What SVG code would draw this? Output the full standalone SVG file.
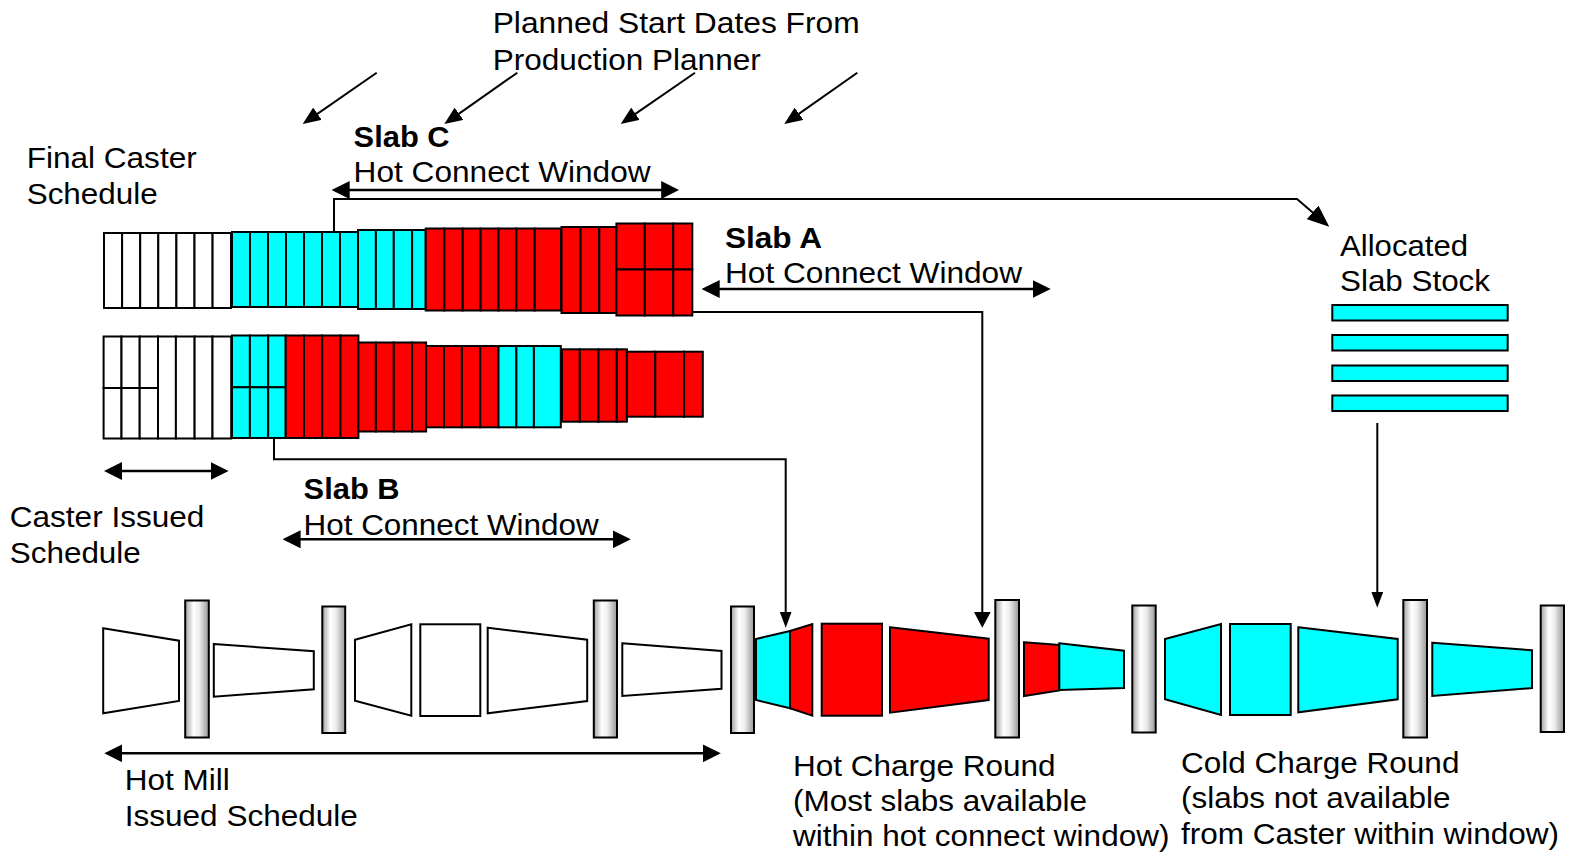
<svg xmlns="http://www.w3.org/2000/svg" width="1575" height="855" viewBox="0 0 1575 855">
<defs>
<linearGradient id="rollg" x1="0" y1="0" x2="1" y2="0">
<stop offset="0" stop-color="#a0a0a0"/><stop offset="0.35" stop-color="#ffffff"/><stop offset="0.6" stop-color="#ececec"/><stop offset="1" stop-color="#969696"/>
</linearGradient>
<marker id="ahBig" markerUnits="userSpaceOnUse" markerWidth="18" markerHeight="18" refX="12" refY="9" orient="auto-start-reverse"><path d="M0,0 L18,9 L0,18 z" fill="#000"/></marker>
<marker id="ahDiag" markerUnits="userSpaceOnUse" markerWidth="18" markerHeight="15" refX="12" refY="7.5" orient="auto"><path d="M0,0 L18,7.5 L0,15 z" fill="#000"/></marker>
<marker id="ahC" markerUnits="userSpaceOnUse" markerWidth="22" markerHeight="18" refX="14" refY="9" orient="auto"><path d="M0,0 L22,9 L0,18 z" fill="#000"/></marker>
<marker id="ahMed" markerUnits="userSpaceOnUse" markerWidth="16" markerHeight="17" refX="10" refY="8.5" orient="auto"><path d="M0,0 L16,8.5 L0,17 z" fill="#000"/></marker>
<marker id="ahSm" markerUnits="userSpaceOnUse" markerWidth="16" markerHeight="12" refX="10" refY="6" orient="auto"><path d="M0,0 L16,6 L0,12 z" fill="#000"/></marker>
</defs>
<style>
text{font-family:"Liberation Sans",Arial,Helvetica,sans-serif;font-size:29px;fill:#000}
.b{font-weight:bold}
.w{fill:#fff;stroke:#000;stroke-width:2}
.c{fill:#00ffff;stroke:#000;stroke-width:2}
.r{fill:#ff0000;stroke:#000;stroke-width:2}
.roll{fill:url(#rollg);stroke:#000;stroke-width:2}
.ln{fill:none;stroke:#000;stroke-width:2}
.dbl{fill:none;stroke:#000;stroke-width:2.5;marker-start:url(#ahBig);marker-end:url(#ahBig)}
</style>
<rect width="1575" height="855" fill="#fff"/>

<g id="final-caster-schedule">
<rect class="w" x="104" y="233" width="18.1" height="75"/><rect class="w" x="122.1" y="233" width="18.1" height="75"/><rect class="w" x="140.2" y="233" width="18.1" height="75"/><rect class="w" x="158.3" y="233" width="18.1" height="75"/><rect class="w" x="176.4" y="233" width="18.1" height="75"/><rect class="w" x="194.5" y="233" width="18.1" height="75"/><rect class="w" x="212.6" y="233" width="18.4" height="75"/>
<rect class="c" x="232" y="232" width="18" height="75"/><rect class="c" x="250" y="232" width="18" height="75"/><rect class="c" x="268" y="232" width="18" height="75"/><rect class="c" x="286" y="232" width="18" height="75"/><rect class="c" x="304" y="232" width="18" height="75"/><rect class="c" x="322" y="232" width="18" height="75"/><rect class="c" x="340" y="232" width="18" height="75"/>
<rect class="c" x="358" y="230" width="17.9" height="79"/><rect class="c" x="375.9" y="230" width="17.9" height="79"/><rect class="c" x="393.8" y="230" width="18.3" height="79"/><rect class="c" x="412.1" y="230" width="13.6" height="79"/>
<rect class="r" x="425.7" y="228.5" width="18.7" height="82"/><rect class="r" x="444.4" y="228.5" width="18.3" height="82"/><rect class="r" x="462.7" y="228.5" width="17.9" height="82"/><rect class="r" x="480.6" y="228.5" width="17.9" height="82"/><rect class="r" x="498.5" y="228.5" width="17.9" height="82"/><rect class="r" x="516.4" y="228.5" width="18.3" height="82"/><rect class="r" x="534.7" y="228.5" width="26.3" height="82"/>
<rect class="r" x="561.5" y="227" width="19.1" height="86"/><rect class="r" x="580.6" y="227" width="18.7" height="86"/><rect class="r" x="599.3" y="227" width="17.1" height="86"/>
<rect class="r" x="616.4" y="223.5" width="28.4" height="46"/><rect class="r" x="644.8" y="223.5" width="28.4" height="46"/><rect class="r" x="673.2" y="223.5" width="19.1" height="46"/>
<rect class="r" x="616.4" y="269.5" width="28.4" height="46"/><rect class="r" x="644.8" y="269.5" width="28.4" height="46"/><rect class="r" x="673.2" y="269.5" width="19.1" height="46"/>
</g>

<g id="caster-issued-schedule-row">
<rect class="w" x="103.6" y="336.5" width="17.9" height="51.5"/><rect class="w" x="121.5" y="336.5" width="18.2" height="51.5"/><rect class="w" x="139.7" y="336.5" width="18.3" height="51.5"/>
<rect class="w" x="103.6" y="388" width="17.9" height="50.5"/><rect class="w" x="121.5" y="388" width="18.2" height="50.5"/><rect class="w" x="139.7" y="388" width="18.3" height="50.5"/>
<rect class="w" x="158" y="336.5" width="17.9" height="102"/><rect class="w" x="175.9" y="336.5" width="18.7" height="102"/><rect class="w" x="194.6" y="336.5" width="17.9" height="102"/><rect class="w" x="212.5" y="336.5" width="18.7" height="102"/>
<rect class="c" x="232" y="335.5" width="17.9" height="51.8"/><rect class="c" x="249.9" y="335.5" width="18.3" height="51.8"/><rect class="c" x="268.2" y="335.5" width="17.5" height="51.8"/>
<rect class="c" x="232" y="387.3" width="17.9" height="50.7"/><rect class="c" x="249.9" y="387.3" width="18.3" height="50.7"/><rect class="c" x="268.2" y="387.3" width="17.5" height="50.7"/>
<rect class="r" x="285.7" y="335.5" width="18.3" height="102.5"/><rect class="r" x="304" y="335.5" width="18.2" height="102.5"/><rect class="r" x="322.2" y="335.5" width="18.3" height="102.5"/><rect class="r" x="340.5" y="335.5" width="17.9" height="102.5"/>
<rect class="r" x="358.4" y="342.5" width="17.5" height="89"/><rect class="r" x="375.9" y="342.5" width="17.9" height="89"/><rect class="r" x="393.8" y="342.5" width="18.3" height="89"/><rect class="r" x="412.1" y="342.5" width="14" height="89"/>
<rect class="r" x="426.1" y="346" width="17.9" height="81.3"/><rect class="r" x="444" y="346" width="17.9" height="81.3"/><rect class="r" x="461.9" y="346" width="18.3" height="81.3"/><rect class="r" x="480.2" y="346" width="18.3" height="81.3"/>
<rect class="c" x="498.5" y="346" width="17.9" height="81.3"/><rect class="c" x="516.4" y="346" width="17.5" height="81.3"/><rect class="c" x="533.9" y="346" width="26.9" height="81.3"/>
<rect class="r" x="561.9" y="349.3" width="17.9" height="72.4"/><rect class="r" x="579.8" y="349.3" width="18.7" height="72.4"/><rect class="r" x="598.5" y="349.3" width="18.3" height="72.4"/><rect class="r" x="616.8" y="349.3" width="10.1" height="72.4"/>
<rect class="r" x="626.9" y="351.7" width="28.4" height="65"/><rect class="r" x="655.3" y="351.7" width="28.8" height="65"/><rect class="r" x="684.1" y="351.7" width="18.7" height="65"/>
</g>

<g id="allocated-slab-stock">
<rect class="c" x="1332.3" y="305" width="175.4" height="15.5"/>
<rect class="c" x="1332.3" y="335" width="175.4" height="15.5"/>
<rect class="c" x="1332.3" y="365.5" width="175.4" height="15.5"/>
<rect class="c" x="1332.3" y="395.5" width="175.4" height="15.5"/>
</g>

<g id="hot-mill-issued-schedule">
<polygon class="w" points="103.2,628.3 179,640.7 179,701 103.2,713.3"/>
<polygon class="w" points="213.8,644 313.8,651.3 313.8,689.3 213.8,696.7"/>
<polygon class="w" points="355,639.7 411.3,624.3 411.3,715.7 355,700.7"/>
<rect class="w" x="420.3" y="624.3" width="60" height="91.7"/>
<polygon class="w" points="487.7,627.7 587.2,639.7 587.2,701 487.7,713.3"/>
<polygon class="w" points="622.3,643.3 721.5,651 721.5,688.7 622.3,696"/>
</g>

<g id="hot-charge-round">
<polygon class="c" points="756,639 790,631 790,708.3 756,700"/>
<polygon class="r" points="790,631 812.3,624 812.3,715.7 790,708.3"/>
<rect class="r" x="821.7" y="623.7" width="60.3" height="92"/>
<polygon class="r" points="890,627.3 988.7,638.7 988.7,700 890,712.7"/>
<polygon class="r" points="1024,642.3 1059.3,645 1059.3,690.5 1024,696"/>
<polygon class="c" points="1059.3,643.3 1124,650.7 1124,688 1059.3,690"/>
</g>

<g id="cold-charge-round">
<polygon class="c" points="1165,639 1221,624 1221,715 1165,699.3"/>
<rect class="c" x="1230" y="624" width="60.7" height="91"/>
<polygon class="c" points="1298.3,627.3 1397.7,639 1397.7,699.3 1298.3,712.3"/>
<polygon class="c" points="1432.3,642.7 1532,650.3 1532,688 1432.3,696"/>
</g>

<g id="rollers">
<rect class="roll" x="185.2" y="600.5" width="23.6" height="137"/>
<rect class="roll" x="322.3" y="606.5" width="22.9" height="126.5"/>
<rect class="roll" x="593.8" y="600.5" width="23.2" height="137"/>
<rect class="roll" x="731" y="606.5" width="23" height="126.5"/>
<rect class="roll" x="995.3" y="600" width="23.7" height="137.5"/>
<rect class="roll" x="1132.3" y="605.5" width="23.4" height="127"/>
<rect class="roll" x="1403.3" y="600" width="23.7" height="137.5"/>
<rect class="roll" x="1540.7" y="605.5" width="23.3" height="126.5"/>
</g>

<g id="connectors">
<line class="ln" x1="376.7" y1="72.7" x2="307.6" y2="120.6" marker-end="url(#ahDiag)"/>
<line class="ln" x1="517.3" y1="72.7" x2="449.2" y2="120.6" marker-end="url(#ahDiag)"/>
<line class="ln" x1="695" y1="72.7" x2="625.6" y2="120.6" marker-end="url(#ahDiag)"/>
<line class="ln" x1="857.3" y1="72.7" x2="789.2" y2="120.6" marker-end="url(#ahDiag)"/>
<path class="ln" d="M334,232 V199 H1297 L1323.2,221.5" marker-end="url(#ahC)"/>
<path class="ln" d="M692.3,312 H982.3 V621.7" marker-end="url(#ahMed)"/>
<path class="ln" d="M274,438.5 V459.3 H785.7 V621.7" marker-end="url(#ahSm)"/>
<line class="ln" x1="1377.3" y1="423" x2="1377.3" y2="601.7" marker-end="url(#ahSm)"/>
<path class="dbl" d="M337.7,190 H673.2"/>
<path class="dbl" d="M707.7,289 H1044.7"/>
<path class="dbl" d="M288.6,539.3 H624.8"/>
<path class="dbl" d="M110,471 H222.6"/>
<path class="dbl" d="M110.3,753.3 H714.8"/>
</g>

<g id="labels">
<text x="492.7" y="32.5" textLength="367" lengthAdjust="spacingAndGlyphs">Planned Start Dates From</text>
<text x="492.7" y="70" textLength="268" lengthAdjust="spacingAndGlyphs">Production Planner</text>
<text x="26.7" y="168.3" textLength="170" lengthAdjust="spacingAndGlyphs">Final Caster</text>
<text x="26.7" y="204" textLength="131" lengthAdjust="spacingAndGlyphs">Schedule</text>
<text class="b" x="353.6" y="147.3" textLength="96" lengthAdjust="spacingAndGlyphs">Slab C</text>
<text x="353.6" y="181.7" textLength="297" lengthAdjust="spacingAndGlyphs">Hot Connect Window</text>
<text class="b" x="725" y="247.7" textLength="97" lengthAdjust="spacingAndGlyphs">Slab A</text>
<text x="725" y="282.7" textLength="297" lengthAdjust="spacingAndGlyphs">Hot Connect Window</text>
<text x="1340" y="256" textLength="128" lengthAdjust="spacingAndGlyphs">Allocated</text>
<text x="1340" y="291" textLength="150" lengthAdjust="spacingAndGlyphs">Slab Stock</text>
<text class="b" x="303.6" y="499" textLength="96" lengthAdjust="spacingAndGlyphs">Slab B</text>
<text x="303.6" y="535.3" textLength="295" lengthAdjust="spacingAndGlyphs">Hot Connect Window</text>
<text x="9.8" y="527.3" textLength="194.5" lengthAdjust="spacingAndGlyphs">Caster Issued</text>
<text x="9.8" y="563" textLength="131" lengthAdjust="spacingAndGlyphs">Schedule</text>
<text x="124.8" y="790" textLength="105" lengthAdjust="spacingAndGlyphs">Hot Mill</text>
<text x="124.8" y="825.7" textLength="233" lengthAdjust="spacingAndGlyphs">Issued Schedule</text>
<text x="793" y="775.7" textLength="262.6" lengthAdjust="spacingAndGlyphs">Hot Charge Round</text>
<text x="793" y="811" textLength="294" lengthAdjust="spacingAndGlyphs">(Most slabs available</text>
<text x="793" y="846" textLength="376.4" lengthAdjust="spacingAndGlyphs">within hot connect window)</text>
<text x="1181" y="773.3" textLength="278.4" lengthAdjust="spacingAndGlyphs">Cold Charge Round</text>
<text x="1181" y="808" textLength="269.6" lengthAdjust="spacingAndGlyphs">(slabs not available</text>
<text x="1181" y="843.5" textLength="378" lengthAdjust="spacingAndGlyphs">from Caster within window)</text>
</g>
</svg>
